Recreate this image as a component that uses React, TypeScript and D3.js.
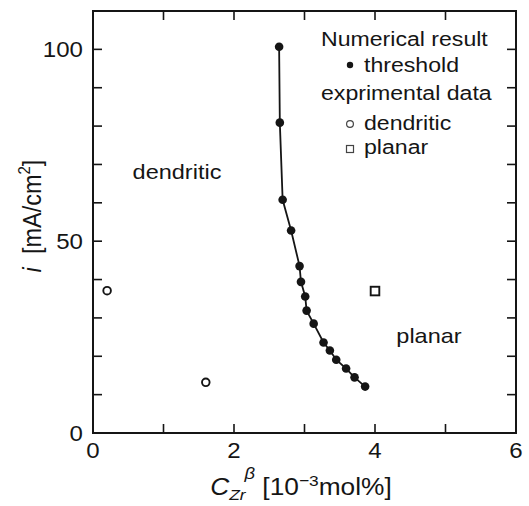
import React from "react";
import * as d3 from "d3";

const thresholdX = [2.64, 2.65, 2.69, 2.81, 2.93, 2.95, 3.01, 3.03, 3.13, 3.27, 3.36, 3.45, 3.59, 3.71, 3.86];
const thresholdY = [100.7, 80.9, 60.8, 52.8, 43.5, 39.4, 35.6, 31.9, 28.5, 23.6, 21.5, 19.1, 16.8, 14.5, 12.1];
const dendriticX = [0.2, 1.6];
const dendriticY = [37.1, 13.2];
const planarX = [4.0];
const planarY = [37.0];
const xTickLabels = [0, 2, 4, 6];
const yTickLabels = [0, 50, 100];
const xMinorTicks = [1, 2, 3, 4, 5];
const yMinorTicks = [10, 20, 30, 40, 50, 60, 70, 80, 90, 100];

const W = 529;
const H = 506;
const L = 93, R = 516, T = 11, B = 433;
const FONT = "'Liberation Sans', Arial, Helvetica, sans-serif";
const SX = 1.12;
const INK = "#151515";

const x = d3.scaleLinear().domain([0, 6]).range([L, R]);
const y = d3.scaleLinear().domain([0, 110]).range([B, T]);

function Txt(props: { x: number; y: number; anchor?: string; size?: number; sx?: number; children: any }) {
  const { anchor = "start", size = 21, sx = SX } = props;
  return (
    <text
      transform={`translate(${props.x},${props.y}) scale(${sx},1)`}
      textAnchor={anchor}
      fontSize={size}
      fontFamily={FONT}
      fill={INK}
    >
      {props.children}
    </text>
  );
}

export default function App() {
  const thr = thresholdX.map((v, i) => [v, thresholdY[i]] as [number, number]);
  const line = d3
    .line<[number, number]>()
    .x((d) => x(d[0]))
    .y((d) => y(d[1]))
    .curve(d3.curveLinear);
  const tk = 9;
  return (
    <svg width={W} height={H} style={{ position: "absolute", left: 0, top: 0, background: "#fff" }}>
      <rect x={0} y={0} width={W} height={H} fill="#fff" />
      {/* ticks */}
      <g stroke={INK} strokeWidth={1.6}>
        {xMinorTicks.map((t) => (
          <g key={"xt" + t}>
            <line x1={x(t)} x2={x(t)} y1={B} y2={B - tk} />
            <line x1={x(t)} x2={x(t)} y1={T} y2={T + tk} />
          </g>
        ))}
        {yMinorTicks.map((t) => (
          <g key={"yt" + t}>
            <line x1={L} x2={L + tk} y1={y(t)} y2={y(t)} />
            <line x1={R} x2={R - tk} y1={y(t)} y2={y(t)} />
          </g>
        ))}
      </g>
      <rect x={L} y={T} width={R - L} height={B - T} fill="none" stroke={INK} strokeWidth={2} />
      {/* tick labels */}
      {xTickLabels.map((t) => (
        <Txt key={"xl" + t} x={x(t)} y={B + 25} anchor="middle" size={21.5}>
          {t}
        </Txt>
      ))}
      {yTickLabels.map((t) => (
        <Txt key={"yl" + t} x={L - 10} y={y(t) + 7.5} anchor="end" size={21.5}>
          {t}
        </Txt>
      ))}
      {/* threshold curve */}
      <path d={line(thr) || ""} fill="none" stroke={INK} strokeWidth={1.8} />
      {thr.map((d, i) => (
        <circle key={"th" + i} cx={x(d[0])} cy={y(d[1])} r={4.3} fill={INK} />
      ))}
      {dendriticX.map((v, i) => (
        <circle key={"dd" + i} cx={x(v)} cy={y(dendriticY[i])} r={3.8} fill="#fff" stroke={INK} strokeWidth={1.9} />
      ))}
      {planarX.map((v, i) => (
        <rect key={"pl" + i} x={x(v) - 4.3} y={y(planarY[i]) - 4.3} width={8.6} height={8.6} fill="#fff" stroke={INK} strokeWidth={1.9} />
      ))}
      {/* region labels */}
      <Txt x={177} y={179} anchor="middle" size={21}>dendritic</Txt>
      <Txt x={429} y={343} anchor="middle" size={21}>planar</Txt>
      {/* legend */}
      <Txt x={321} y={46} size={21} sx={1.1}>Numerical result</Txt>
      <circle cx={350} cy={65} r={3.2} fill={INK} />
      <Txt x={364} y={72} size={21} sx={1.1}>threshold</Txt>
      <Txt x={321} y={100} size={21} sx={1.1}>exprimental data</Txt>
      <circle cx={350} cy={124} r={3.4} fill="#fff" stroke="#444" strokeWidth={1.2} />
      <Txt x={364} y={130} size={21} sx={1.1}>dendritic</Txt>
      <rect x={346.5} y={145.5} width={7} height={7} fill="#fff" stroke="#444" strokeWidth={1.2} />
      <Txt x={364} y={154} size={21} sx={1.1}>planar</Txt>
      {/* y axis label */}
      <text
        transform={`translate(41,216) rotate(-90) scale(1,${SX})`}
        textAnchor="middle"
        fontSize={23.5}
        fontFamily={FONT}
        fill={INK}
      >
        <tspan fontStyle="italic">i</tspan>
        <tspan>{"\u00a0\u00a0[mA/cm"}</tspan>
        <tspan fontSize={15} dy={-10}>2</tspan>
        <tspan dy={10}>]</tspan>
      </text>
      {/* x axis label */}
      <text
        transform={`translate(301,495) scale(${SX},1)`}
        textAnchor="middle"
        fontSize={23.5}
        fontFamily={FONT}
        fill={INK}
      >
        <tspan fontStyle="italic">C</tspan>
        <tspan fontStyle="italic" fontSize={15.5} dy={5}>Zr</tspan>
        <tspan fontStyle="italic" fontSize={16.5} dy={-21} dx={-1}>β</tspan>
        <tspan dy={16}>{" [10"}</tspan>
        <tspan fontSize={15.5} dy={-9}>−3</tspan>
        <tspan dy={9}>mol%]</tspan>
      </text>
    </svg>
  );
}
